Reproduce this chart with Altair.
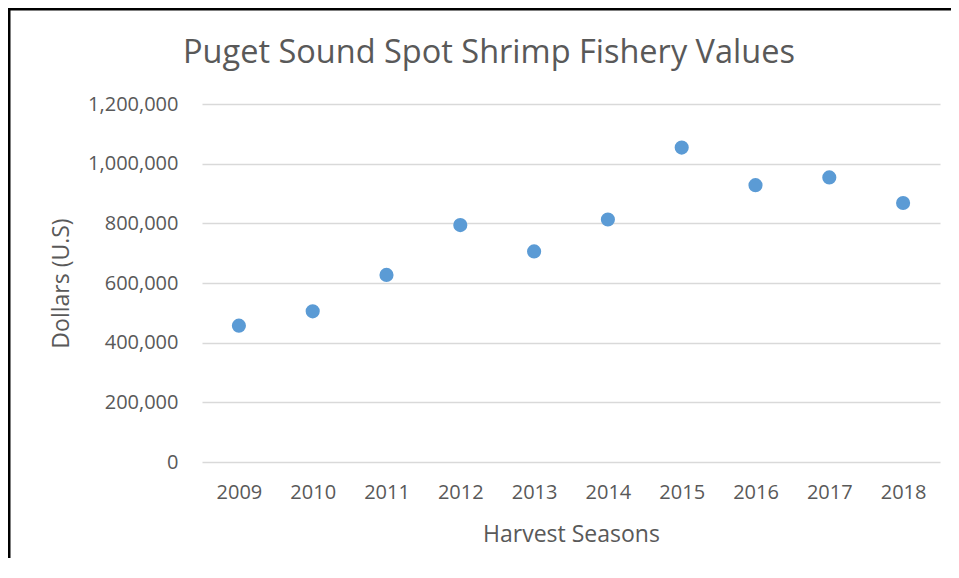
import altair as alt
import pandas as pd

# ---- data ----
seasons = ["2009", "2010", "2011", "2012", "2013", "2014", "2015", "2016", "2017", "2018"]
values = [457000, 505000, 627000, 794000, 706000, 813000, 1054000, 928000, 954000, 868000]
y_ticks = [0, 200000, 400000, 600000, 800000, 1000000, 1200000]
title_text = "Puget Sound Spot Shrimp Fishery Values"

df = pd.DataFrame({"Season": seasons, "Value": values})

W, H = 738, 358
PAD_L, PAD_T, PAD_R, PAD_B = 194, 96, 11, 96
FONT = "Open Sans"
TXT = "#595959"

points = alt.Chart(df).mark_circle(size=200, color="#5B9BD5", opacity=1).encode(
    x=alt.X(
        "Season:O",
        sort=seasons,
        title="Harvest Seasons",
        scale=alt.Scale(padding=0.5),
        axis=alt.Axis(
            labelAngle=0, ticks=False, tickSize=0, domain=False, grid=False,
            labelPadding=20, labelFontSize=20, labelColor=TXT, labelFont=FONT,
            titleFontSize=23, titleFont=FONT, titleColor=TXT, titleFontWeight="normal",
            titlePadding=21,
        ),
    ),
    y=alt.Y(
        "Value:Q",
        title="Dollars (U.S)",
        scale=alt.Scale(domain=[0, 1200000], nice=False),
        axis=alt.Axis(
            values=y_ticks, format=",d", ticks=False, tickSize=0, domain=False,
            gridColor="#d9d9d9", gridWidth=1.5,
            labelPadding=24, labelFontSize=20, labelColor=TXT, labelFont=FONT,
            titleFontSize=23, titleFont=FONT, titleColor=TXT, titleFontWeight="normal",
            titlePadding=14,
        ),
    ),
)

one = alt.Data(values=[{}])
left_border = alt.Chart(one).mark_rect(color="black", strokeWidth=0).encode(
    x=alt.value(-PAD_L), x2=alt.value(-PAD_L + 2.5),
    y=alt.value(-PAD_T), y2=alt.value(H + PAD_B + 40),
)
top_border = alt.Chart(one).mark_rect(color="black", strokeWidth=0).encode(
    x=alt.value(-PAD_L), x2=alt.value(W + PAD_R + 40),
    y=alt.value(-PAD_T), y2=alt.value(-PAD_T + 2.5),
)
title = alt.Chart(one).mark_text(
    fontSize=32.5, font=FONT, color=TXT, align="center", baseline="middle"
).encode(x=alt.value(287), y=alt.value(-51), text=alt.value(title_text))

chart = alt.layer(left_border, top_border, title, points).properties(
    width=W,
    height=H,
    autosize="none",
    padding={"left": PAD_L, "top": PAD_T, "right": PAD_R, "bottom": PAD_B},
    background="white",
).configure_view(strokeWidth=0)

chart.save("out.html", embed_options={"renderer": "svg", "actions": False})
